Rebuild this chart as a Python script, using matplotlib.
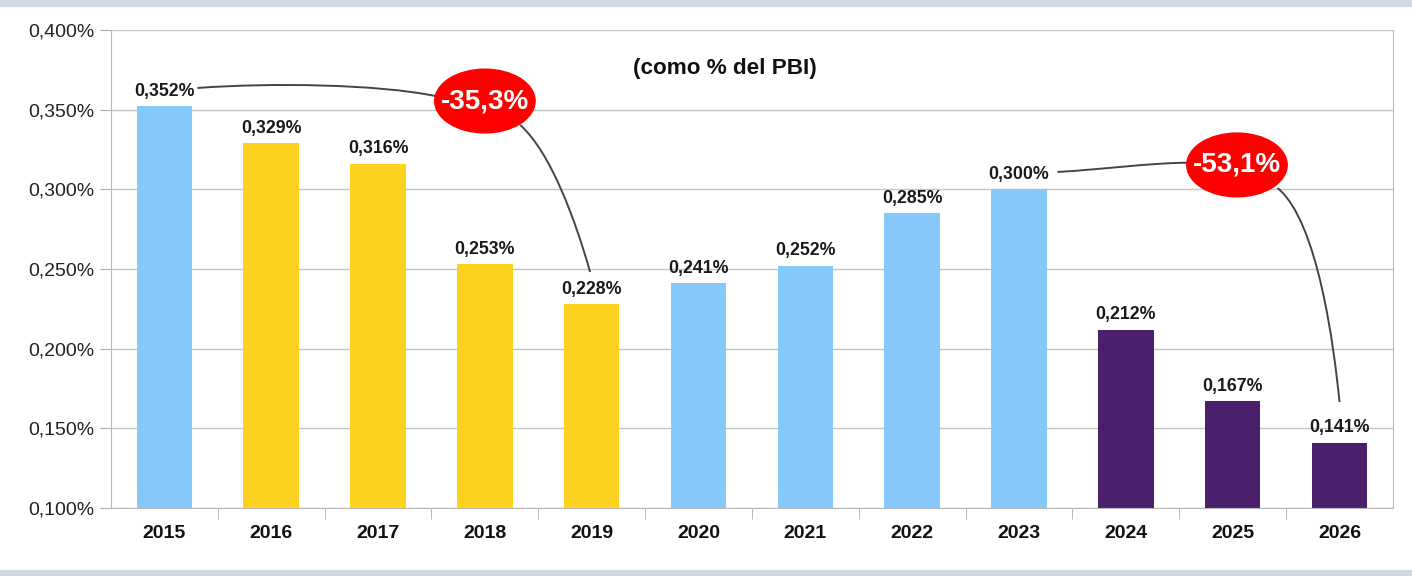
import matplotlib
matplotlib.use('Agg')
import matplotlib.pyplot as plt
from matplotlib.patches import Ellipse, Rectangle, PathPatch
from matplotlib.path import Path

plt.rcParams['font.family'] = ['Liberation Sans', 'DejaVu Sans']

years = ['2015', '2016', '2017', '2018', '2019', '2020', '2021', '2022', '2023', '2024', '2025', '2026']
values = [0.352, 0.329, 0.316, 0.253, 0.228, 0.241, 0.252, 0.285, 0.300, 0.212, 0.167, 0.141]
groups = ['b', 'y', 'y', 'y', 'y', 'b', 'b', 'b', 'b', 'p', 'p', 'p']
labels = ['0,352%', '0,329%', '0,316%', '0,253%', '0,228%', '0,241%', '0,252%', '0,285%', '0,300%', '0,212%', '0,167%', '0,141%']
yticks = [0.100, 0.150, 0.200, 0.250, 0.300, 0.350, 0.400]
ytick_labels = ['0,100%', '0,150%', '0,200%', '0,250%', '0,300%', '0,350%', '0,400%']
changes = ['-35,3%', '-53,1%']

palette = {'b': '#85c8fa', 'y': '#fdd21f', 'p': '#4a1f6b'}

fig = plt.figure(figsize=(14.12, 5.76), dpi=100)
# grey bands top and bottom
fig.patches.append(Rectangle((0, 0.989), 1, 0.011, transform=fig.transFigure, color='#d3d7e3', zorder=0))
fig.patches.append(Rectangle((0, 0), 1, 0.011, transform=fig.transFigure, color='#d3d7e3', zorder=0))

ax = fig.add_axes([0.0786, 0.118, 0.9079, 0.830])
x = list(range(len(years)))
ax.bar(x, values, width=0.52, bottom=0, color=[palette[g] for g in groups], zorder=2)
ax.set_xlim(-0.5, len(years) - 0.5)
ax.set_ylim(0.100, 0.400)

ax.set_yticks(yticks)
ax.set_yticklabels(ytick_labels, fontsize=14, color='#222222')
ax.set_xticks(x)
ax.set_xticklabels(years, fontsize=14, fontweight='bold', color='#111111')
ax.set_xticks([i + 0.5 for i in x[:-1]], minor=True)
ax.tick_params(axis='x', which='major', length=0, pad=12)
ax.tick_params(axis='x', which='minor', length=8, color='#b0b0b0')
ax.tick_params(axis='y', length=8, color='#b0b0b0', pad=4)
ax.grid(axis='y', color='#c4c4c4', linewidth=1, zorder=0)
for s in ax.spines.values():
    s.set_color('#b8b8b8')
ax.spines['top'].set_visible(False)

for i, v in enumerate(values):
    ax.text(i, v + 0.004, labels[i], ha='center', va='bottom', fontsize=12.8, fontweight='bold', color='#1a1a1a', zorder=4)

ax.text(5.25, 0.3755, '(como % del PBI)', ha='center', va='center', fontsize=16.2, fontweight='bold', color='#111111')

# red ellipses with change annotations
ell_pos = [(3.0, 0.3554), (10.04, 0.3153)]
for (cx, cy), txt in zip(ell_pos, changes):
    ax.add_patch(Ellipse((cx, cy), 0.94, 0.040, color='#ff0000', zorder=5))
    ax.text(cx, cy, txt, ha='center', va='center', fontsize=20, fontweight='bold', color='white', zorder=6)

def curve(p0, c1, c2, p1):
    path = Path([p0, c1, c2, p1], [Path.MOVETO, Path.CURVE4, Path.CURVE4, Path.CURVE4])
    ax.add_patch(PathPatch(path, fill=False, edgecolor='#444444', linewidth=1.4, zorder=3))

curve((0.31, 0.3636), (1.0, 0.367), (2.0, 0.366), (2.54, 0.3585))
curve((3.33, 0.3404), (3.62, 0.323), (3.85, 0.28), (3.985, 0.2481))
curve((8.36, 0.3109), (8.8, 0.3125), (9.2, 0.3165), (9.58, 0.3167))
curve((10.42, 0.3008), (10.8, 0.28), (10.95, 0.2), (11.0, 0.1665))

fig.savefig('out.png', dpi=100)
